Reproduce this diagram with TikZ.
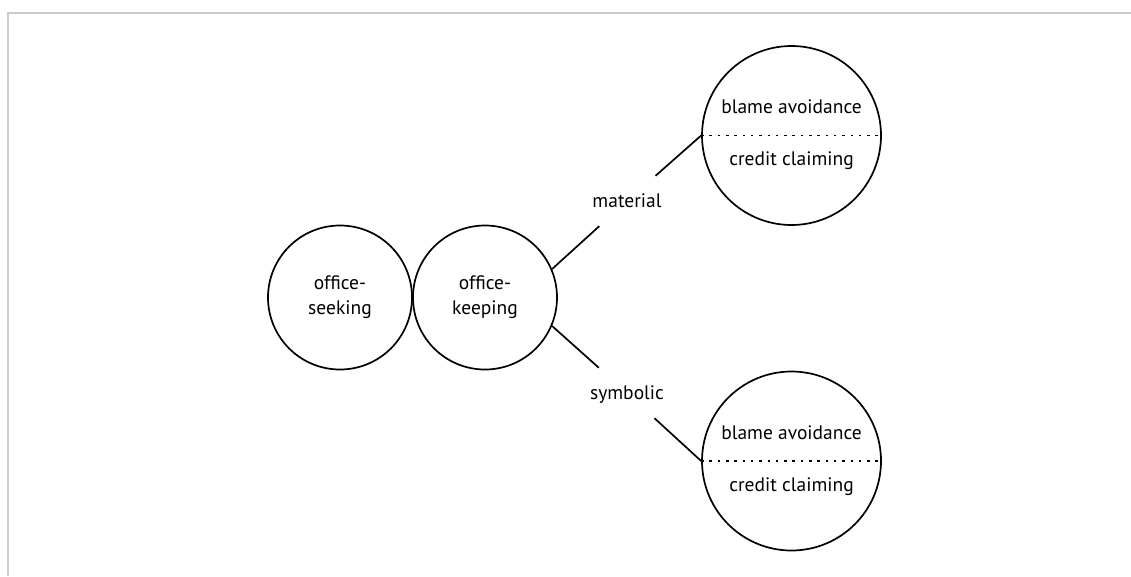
\documentclass[tikz,border=0pt]{standalone}
\usepackage{fontspec}
\setmainfont{PT Sans}
\begin{document}
\begin{tikzpicture}[x=1pt,y=-1pt,
  circ/.style={circle,draw,line width=1.7pt,inner sep=0pt},
  txt/.style={font=\fontsize{19.5}{25}\selectfont,align=center,inner sep=0pt},
  lbl/.style={font=\fontsize{19.5}{25}\selectfont,inner sep=0pt,minimum height=50pt,minimum width=50pt,text height=13pt,text depth=0pt},
  conn/.style={line width=1.7pt},
  dotline/.style={line width=1.3pt,dash pattern=on 2.5pt off 5.8pt},
  frame/.style={line width=2pt,color=black!20}]
\useasboundingbox (0,0) rectangle (1131,576);
\draw[frame] (7.5,576) -- (7.5,12.5) -- (1131,12.5);
\node[circ,minimum size=144pt] (seek) at (340,297.5) {};
\node[txt] (seekt) at (seek.center) {office-\\seeking};
\node[circ,minimum size=144pt] (keep) at (485,297.5) {};
\node[txt] (keept) at (keep.center) {office-\\keeping};
\node[circ,minimum size=179pt] (top) at (791.5,135.5) {};
\node[circ,minimum size=179pt] (bot) at (791.5,461) {};
\node[txt] (topa) at (791.5,107) {blame avoidance};
\node[txt] (topb) at (791.5,161) {credit claiming};
\node[txt] (bota) at (791.5,433) {blame avoidance};
\node[txt] (botb) at (791.5,487) {credit claiming};
\draw[dotline] (top.west) -- (top.east);
\draw[dotline] (bot.west) -- (bot.east);
\node[lbl] (mat) at (627,201) {material};
\node[lbl] (sym) at (627,393) {symbolic};
\draw[conn] (keep.23) -- (mat);
\draw[conn] (mat) -- (top.west);
\draw[conn] (keep.-23) -- (sym);
\draw[conn] (sym) -- (bot.west);
\end{tikzpicture}
\end{document}
